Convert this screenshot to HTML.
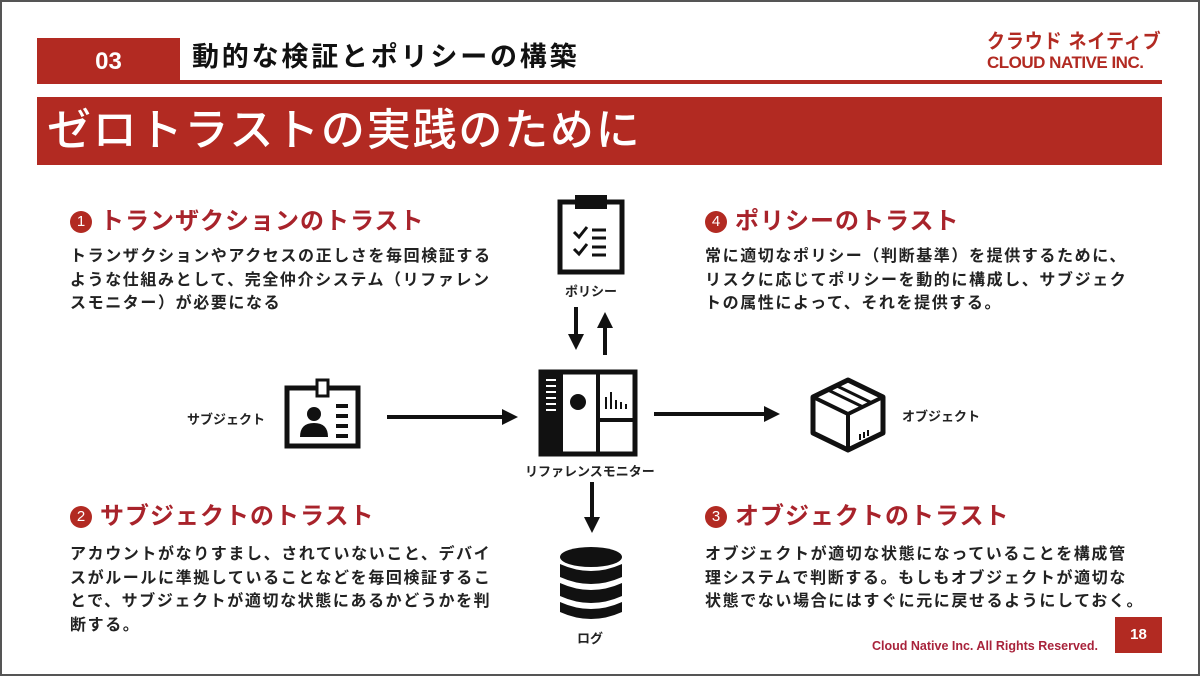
<!DOCTYPE html>
<html><head><meta charset="utf-8"><style>
*{margin:0;padding:0;box-sizing:border-box}
body{width:1200px;height:676px;background:#fff;position:relative;overflow:hidden;font-family:"Liberation Sans","Noto Sans CJK JP",sans-serif;border:2px solid #555}
.a{position:absolute;white-space:nowrap}
.red{background:#b22a22}
.h{color:#a8232b;font-size:24px;font-weight:bold;letter-spacing:1px;line-height:30px}
.num{display:inline-block;width:22px;height:22px;border-radius:50%;background:#b22a22;color:#fff;font-size:15px;line-height:22px;text-align:center;font-weight:normal;vertical-align:3px;margin-right:8px;letter-spacing:0}
.b{font-size:16px;font-weight:bold;color:#222;line-height:23.5px;letter-spacing:1.6px}
.lbl{font-size:13px;font-weight:bold;color:#222}
</style></head><body>
<div class="a red" style="left:35px;top:36px;width:143px;height:46px"></div>
<div class="a" style="left:35px;top:42px;width:143px;text-align:center;color:#fff;font-size:24px;font-weight:bold;line-height:36px">03</div>
<div class="a red" style="left:35px;top:78px;width:1125px;height:4px"></div>
<div class="a" style="left:190px;top:37px;font-size:27px;font-weight:bold;color:#111;line-height:36px;letter-spacing:2.8px">動的な検証とポリシーの構築</div>
<div class="a" style="left:985px;top:30px;color:#b22a22;font-weight:bold;font-size:20px;line-height:20px;letter-spacing:1px;transform:scaleX(0.9);transform-origin:left">クラウド ネイティブ</div>
<div class="a" style="left:985px;top:52px;color:#b22a22;font-weight:bold;font-size:17px;line-height:18px;letter-spacing:-0.5px">CLOUD NATIVE INC.</div>
<div class="a red" style="left:35px;top:95px;width:1125px;height:68px"></div>
<div class="a" style="left:45px;top:102px;color:#fff;font-size:44px;line-height:54px;font-weight:500;letter-spacing:1.8px">ゼロトラストの実践のために</div>

<div class="a h" style="left:68px;top:205px"><span class="num">1</span>トランザクションのトラスト</div>
<div class="a b" style="left:68px;top:243px">トランザクションやアクセスの正しさを毎回検証する<br>ような仕組みとして、完全仲介システム（リファレン<br>スモニター）が必要になる</div>
<div class="a h" style="left:703px;top:205px"><span class="num">4</span>ポリシーのトラスト</div>
<div class="a b" style="left:703px;top:243px">常に適切なポリシー（判断基準）を提供するために、<br>リスクに応じてポリシーを動的に構成し、サブジェク<br>トの属性によって、それを提供する。</div>
<div class="a h" style="left:68px;top:500px"><span class="num">2</span>サブジェクトのトラスト</div>
<div class="a b" style="left:68px;top:541px">アカウントがなりすまし、されていないこと、デバイ<br>スがルールに準拠していることなどを毎回検証するこ<br>とで、サブジェクトが適切な状態にあるかどうかを判<br>断する。</div>
<div class="a h" style="left:703px;top:500px"><span class="num">3</span>オブジェクトのトラスト</div>
<div class="a b" style="left:703px;top:541px">オブジェクトが適切な状態になっていることを構成管<br>理システムで判断する。もしもオブジェクトが適切な<br>状態でない場合にはすぐに元に戻せるようにしておく。</div>

<svg class="a" style="left:0;top:0" width="1200" height="676">
<defs><marker id="ar" markerWidth="4" markerHeight="4" refX="2" refY="2" orient="auto" markerUnits="strokeWidth"><path d="M0,0L4,2L0,4z" fill="#111"/></marker></defs>
<g stroke="#111" stroke-width="4" fill="none">
<rect x="558" y="200" width="62" height="70" stroke-width="5"/>
<rect x="575" y="195" width="28" height="10" fill="#111"/>
<path d="M572 230l5 5 8-10M572 247l5 5 8-10" stroke-width="3"/>
<path d="M590 228h14M590 236h14M590 245h14M590 253h14" stroke-width="3"/>
<line x1="574" y1="305" x2="574" y2="340" marker-end="url(#ar)"/>
<line x1="603" y1="353" x2="603" y2="318" marker-end="url(#ar)"/>
<rect x="539" y="370" width="94" height="82" stroke-width="5"/>
<rect x="539" y="370" width="20" height="82" fill="#111"/>
<line x1="596" y1="370" x2="596" y2="452"/>
<line x1="596" y1="418" x2="633" y2="418"/>
<path d="M544 378h10M544 384h10M544 390h10M544 396h10M544 402h10M544 408h10" stroke="#fff" stroke-width="2"/>
<circle cx="576" cy="400" r="8" fill="#111" stroke="none"/>
<path d="M604 395v12M609 390v17M614 398v9M619 400v7M624 402v5" stroke-width="2"/>
<rect x="285" y="386" width="71" height="58" stroke-width="5"/>
<rect x="315" y="378" width="11" height="16" fill="#fff" stroke-width="3"/>
<circle cx="312" cy="412" r="7" fill="#111" stroke="none"/>
<path d="M298 435q0-14 14-14q14 0 14 14z" fill="#111" stroke="none"/>
<path d="M334 404h12M334 414h12M334 424h12M334 434h12" stroke-width="4"/>
<line x1="385" y1="415" x2="508" y2="415" marker-end="url(#ar)"/>
<line x1="652" y1="412" x2="770" y2="412" marker-end="url(#ar)"/>
<path d="M846 378l35 17v36l-35 17l-35-17v-36z" stroke-width="5" stroke-linejoin="round"/>
<path d="M811 395l35 17l35-17M846 412v36"/>
<path d="M826 388l35 17M835 384l35 17" stroke-width="3"/>
<path d="M858 432v6M862 430v6M866 428v6" stroke-width="2"/>
<line x1="590" y1="480" x2="590" y2="523" marker-end="url(#ar)"/>
</g>
<g fill="#111">
<ellipse cx="589" cy="555" rx="31" ry="10"/>
<path d="M558 562q31 14 62 0v13q-31 14-62 0z"/>
<path d="M558 581q31 14 62 0v13q-31 14-62 0z"/>
<path d="M558 600q31 14 62 0v10q-31 14-62 0z"/>
</g>
</svg>
<div class="a lbl" style="left:563px;top:279px">ポリシー</div>
<div class="a lbl" style="left:523px;top:459px">リファレンスモニター</div>
<div class="a lbl" style="left:185px;top:407px">サブジェクト</div>
<div class="a lbl" style="left:900px;top:404px">オブジェクト</div>
<div class="a lbl" style="left:575px;top:626px">ログ</div>

<div class="a" style="left:870px;top:637px;color:#a8233b;font-size:12.5px;font-weight:bold">Cloud Native Inc. All Rights Reserved.</div>
<div class="a red" style="left:1113px;top:615px;width:47px;height:36px;color:#fff;font-size:15px;font-weight:bold;text-align:center;line-height:36px">18</div>
</body></html>
